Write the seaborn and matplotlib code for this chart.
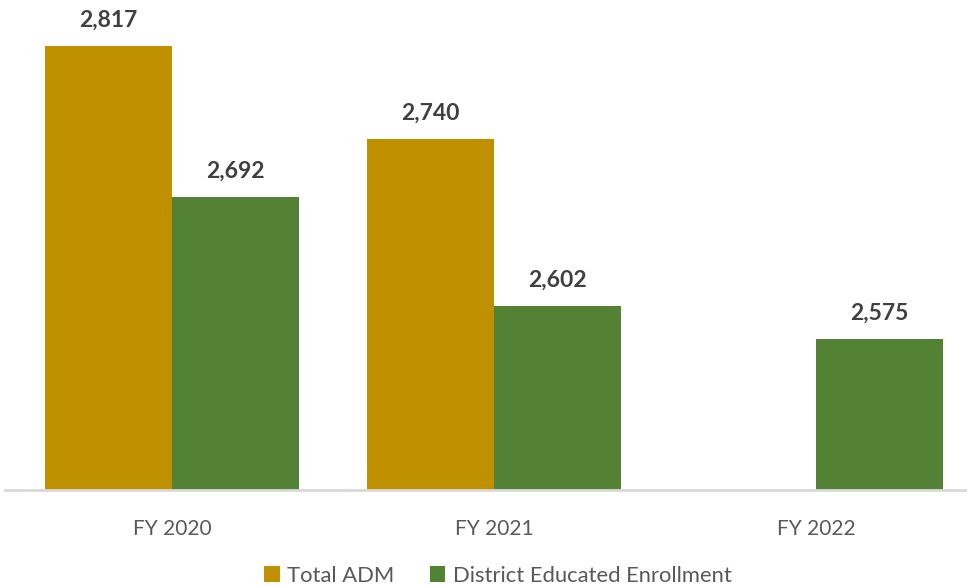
import matplotlib
matplotlib.use("Agg")
import matplotlib.pyplot as plt
import seaborn as sns
import pandas as pd

# Enrollment figures by fiscal year
years = ["FY 2020", "FY 2021", "FY 2022"]
series = ["Total ADM", "District Educated Enrollment"]
total_adm = [2817, 2740, None]
district_enrollment = [2692, 2602, 2575]
colors = ["#BF9000", "#548235"]

rows = []
for yr, a, d in zip(years, total_adm, district_enrollment):
    if a is not None:
        rows.append({"year": yr, "series": series[0], "value": a})
    if d is not None:
        rows.append({"year": yr, "series": series[1], "value": d})
df = pd.DataFrame(rows)

sns.set_style("white")
plt.rcParams["font.family"] = ["Lato", "DejaVu Sans"]

fig = plt.figure(figsize=(9.67, 5.87), dpi=100)
ax = fig.add_axes([5 / 967, 1 - 490 / 587, 962 / 967, 490 / 587])

sns.barplot(data=df, x="year", y="value", hue="series", order=years,
            hue_order=series, palette=colors, width=0.79, saturation=1,
            ax=ax, errorbar=None, edgecolor="none")

ax.set_ylim(2450, 2855)
ax.set_xlim(-0.5186, 2.469)

for cont in ax.containers:
    ax.bar_label(cont, fmt="{:,.0f}", padding=11, fontsize=16.5,
                 fontweight="bold", color="#404040")

for s in ["top", "left", "right"]:
    ax.spines[s].set_visible(False)
ax.spines["bottom"].set_color("#D9D9D9")
ax.spines["bottom"].set_linewidth(2)
ax.set_yticks([])
ax.set_xlabel("")
ax.set_ylabel("")
ax.tick_params(axis="x", length=0, pad=21, labelsize=15, labelcolor="#595959")

leg = ax.legend(loc="center", bbox_to_anchor=(0.5125, -0.175), ncol=2,
                frameon=False, fontsize=15.8, handlelength=0.7,
                handleheight=0.7, handletextpad=0.35, columnspacing=1.6)
for t in leg.get_texts():
    t.set_color("#595959")

fig.savefig("out.png", dpi=100)
